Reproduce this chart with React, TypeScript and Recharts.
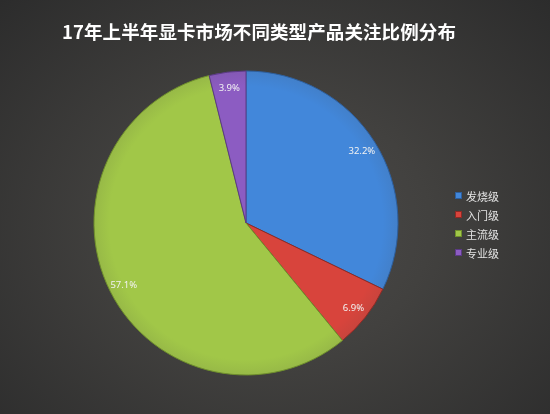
import React from "react";
import { PieChart, Pie, Cell, Legend } from "recharts";

const categories = ["发烧级", "入门级", "主流级", "专业级"];
const shares = [32.2, 6.9, 57.1, 3.9];
const sliceColors = ["#4287da", "#d8443c", "#a1c748", "#8c5cc2"];
const edgeColors = ["#2d5f9e", "#8e2a25", "#6f8f2c", "#5b3a85"];

const data = categories.map((name, i) => ({ name, value: shares[i] }));

const RAD = Math.PI / 180;

// percentage label drawn near the outer rim, inside the slice
function renderLabel(props: any) {
  const { cx, cy, midAngle, outerRadius, value } = props;
  const r = outerRadius * 0.9;
  const x = cx + r * Math.cos(-midAngle * RAD);
  const y = cy + r * Math.sin(-midAngle * RAD);
  return (
    <text
      x={x}
      y={y}
      fill="#f2f2f2"
      fontSize={9.5}
      fontFamily="'Noto Sans', sans-serif"
      textAnchor="middle"
      dominantBaseline="central"
    >
      {value.toFixed(1)}%
    </text>
  );
}

// legend follows the category order, top to bottom
function LegendList() {
  return (
    <div>
      {categories.map((name, i) => (
        <div key={name} style={{ display: "flex", alignItems: "center", height: 19 }}>
          <span
            style={{
              width: 5,
              height: 5,
              marginRight: 5,
              background: sliceColors[i],
              boxShadow: `0 0 0 1px ${edgeColors[i]}`,
            }}
          />
          <span style={{ color: "#e4e4e4", fontSize: 11 }}>{name}</span>
        </div>
      ))}
    </div>
  );
}

export default function App() {
  return (
    <div
      style={{
        position: "fixed",
        left: 0,
        top: 0,
        width: 550,
        height: 414,
        background:
          "radial-gradient(ellipse at 50% 55%, #4c4b4a 0%, #42413f 40%, #2c2c2c 100%)",
        fontFamily: "'Noto Sans CJK SC', 'Noto Sans', sans-serif",
      }}
    >
      <div
        style={{
          position: "absolute",
          top: 18,
          left: 0,
          width: 518,
          textAlign: "center",
          color: "#ffffff",
          fontSize: 18.5,
          fontWeight: 700,
          letterSpacing: 0.1,
        }}
      >
        17年上半年显卡市场不同类型产品关注比例分布
      </div>
      <PieChart
        width={550}
        height={414}
        margin={{ top: 0, right: 0, bottom: 0, left: 0 }}
        style={{ position: "absolute", left: 0, top: 0 }}
      >
        <defs>
          {sliceColors.map((c, i) => (
            <radialGradient
              key={c}
              id={`slice-${i}`}
              cx={246}
              cy={223}
              r={152}
              gradientUnits="userSpaceOnUse"
            >
              <stop offset="0%" stopColor={c} />
              <stop offset="90%" stopColor={c} />
              <stop offset="100%" stopColor={c} stopOpacity={0.9} />
            </radialGradient>
          ))}
        </defs>
        <Pie
          data={data}
          dataKey="value"
          nameKey="name"
          cx={246}
          cy={223}
          outerRadius={152}
          startAngle={90}
          endAngle={-270}
          label={renderLabel}
          labelLine={false}
          isAnimationActive={false}
        >
          {data.map((d, i) => (
            <Cell
              key={d.name}
              fill={`url(#slice-${i})`}
              stroke={edgeColors[i]}
              strokeWidth={1}
            />
          ))}
        </Pie>
        <Legend
          layout="vertical"
          align="right"
          verticalAlign="top"
          content={<LegendList />}
          wrapperStyle={{ left: 456, top: 186, width: 80 }}
        />
      </PieChart>
    </div>
  );
}
